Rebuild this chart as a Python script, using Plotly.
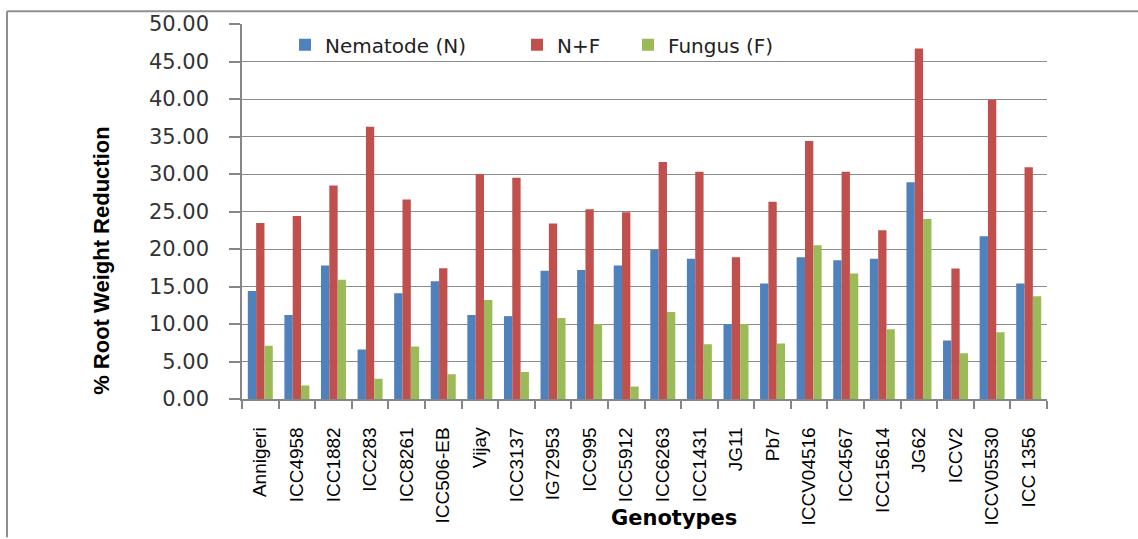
import plotly.graph_objects as go

genotypes = ["Annigeri", "ICC4958", "ICC1882", "ICC283", "ICC8261", "ICC506-EB", "Vijay",
             "ICC3137", "IG72953", "ICC995", "ICC5912", "ICC6263", "ICC1431", "JG11", "Pb7",
             "ICCV04516", "ICC4567", "ICC15614", "JG62", "ICCV2", "ICCV05530", "ICC 1356"]
nematode = [14.4, 11.2, 17.8, 6.6, 14.1, 15.7, 11.2, 11.05, 17.1, 17.2, 17.8, 19.9, 18.7, 10.0, 15.4,
            18.9, 18.5, 18.7, 28.9, 7.8, 21.7, 15.4]
n_plus_f = [23.46, 24.4, 28.46, 36.3, 26.6, 17.45, 30.0, 29.5, 23.4, 25.3, 24.9, 31.6, 30.3, 18.9, 26.3,
            34.4, 30.3, 22.5, 46.75, 17.4, 39.9, 30.9]
fungus = [7.1, 1.8, 15.9, 2.7, 7.0, 3.3, 13.2, 3.6, 10.8, 10.0, 1.66, 11.6, 7.3, 10.0, 7.4,
          20.5, 16.75, 9.3, 24.0, 6.1, 8.9, 13.7]
series_names = ["Nematode (N)", "N+F", "Fungus (F)"]
y_ticks = [0, 5, 10, 15, 20, 25, 30, 35, 40, 45, 50]

colors = ["#4F81BD", "#C0504D", "#9BBB59"]
legend_ids = ["legend", "legend2", "legend3"]

W, H = 1138, 539
L, R, T, B = 242, 91, 19, 140
pw, ph = W - L - R, H - T - B

def px_x(p):
    return (p - L) / pw

def px_y(p):
    return (H - B - p) / ph

fig = go.Figure()
for name, vals, c, lg in zip(series_names, [nematode, n_plus_f, fungus], colors, legend_ids):
    fig.add_trace(go.Bar(x=genotypes, y=vals, name=name, legend=lg,
                         marker=dict(color=c, line=dict(width=0))))

legend_font = dict(family="DejaVu Sans", size=20, color="#222222")
legend_start_px = [285, 517, 628]

def legend_cfg(xpx):
    return dict(orientation="h", x=px_x(xpx), xanchor="left", y=px_y(40), yanchor="middle",
                font=legend_font, bgcolor="rgba(0,0,0,0)", itemclick=False, borderwidth=0)

fig.update_layout(
    width=W, height=H,
    margin=dict(l=L, r=R, t=T, b=B),
    paper_bgcolor="white", plot_bgcolor="white",
    barmode="group", bargap=0.317, bargroupgap=0,
    showlegend=True,
    legend=legend_cfg(legend_start_px[0]),
    legend2=legend_cfg(legend_start_px[1]),
    legend3=legend_cfg(legend_start_px[2]),
    xaxis=dict(type="category", tickson="boundaries", ticks="outside", ticklen=8,
               tickcolor="#868686", tickwidth=1.5, showline=True, linecolor="#868686", linewidth=1.5,
               tickangle=-90, tickfont=dict(family="Liberation Sans", size=19, color="#000000"),
               ticklabelstandoff=19, showgrid=False),
    yaxis=dict(range=[0, 50], tickvals=y_ticks, tickformat=".2f", ticks="outside", ticklen=11,
               tickcolor="#868686", tickwidth=1.5, showline=True, linecolor="#868686", linewidth=1.5,
               showgrid=True, gridcolor="#8c8c8c", gridwidth=1.3, zeroline=False,
               tickfont=dict(family="DejaVu Sans", size=21, color="#333333"),
               ticklabelstandoff=16),
    annotations=[
        dict(text="<b>% Root Weight Reduction</b>", xref="paper", yref="paper",
             x=px_x(102), y=px_y(259), xanchor="center", yanchor="middle",
             textangle=-90, showarrow=False,
             font=dict(family="Liberation Sans", size=22, color="#000000")),
        dict(text="<b>Genotypes</b>", xref="paper", yref="paper",
             x=px_x(674), y=px_y(520), xanchor="center", yanchor="middle", showarrow=False,
             font=dict(family="DejaVu Sans", size=21, color="#000000")),
    ],
    shapes=[
        dict(type="line", xref="paper", yref="paper", x0=px_x(7), x1=px_x(1138), y0=px_y(6), y1=px_y(6),
             line=dict(color="#8f8f8f", width=2)),
        dict(type="line", xref="paper", yref="paper", x0=px_x(7), x1=px_x(7), y0=px_y(6), y1=px_y(539),
             line=dict(color="#8f8f8f", width=2)),
    ],
)

fig.write_html("out.html", config={"displayModeBar": False},
               post_script="document.body.style.margin='0';document.body.style.padding='0';")
